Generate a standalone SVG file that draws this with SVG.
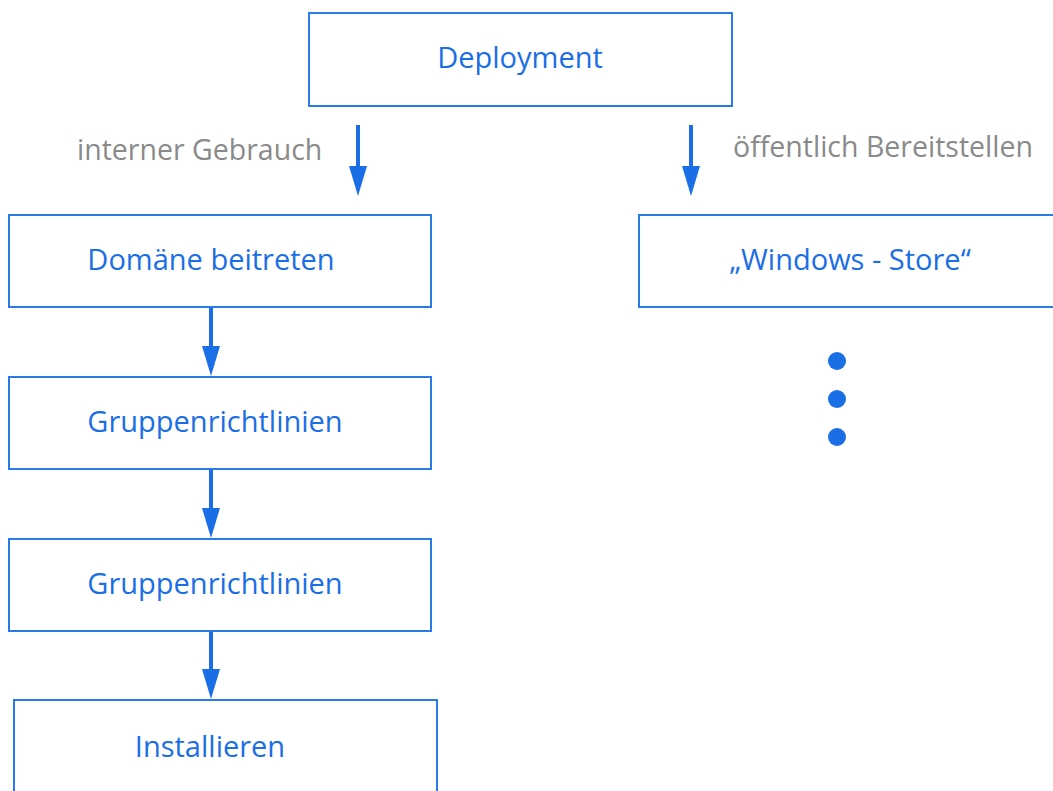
<svg xmlns="http://www.w3.org/2000/svg" width="1053" height="791" viewBox="0 0 1053 791">
  <style>
    .box { fill: #ffffff; stroke: #2a7be8; stroke-width: 2; }
    .lbl { font-family: "Open Sans", "Liberation Sans", sans-serif; font-size: 29px; fill: #1a6ee6; text-anchor: middle; }
    .note { font-family: "Open Sans", "Liberation Sans", sans-serif; font-size: 28.5px; fill: #8a8a8a; }
    .conn { stroke: #1a6ee6; stroke-width: 4; fill: none; }
    .dot { fill: #1a6ee6; }
  </style>
  <defs>
    <!-- arrowhead: 30 long, 18 wide; tip sits 20px past the line end -->
    <marker id="head" markerUnits="userSpaceOnUse" markerWidth="30" markerHeight="18" refX="10" refY="9" orient="auto" viewBox="0 0 30 18">
      <path d="M0,0 L30,9 L0,18 Z" fill="#1a6ee6"/>
    </marker>
  </defs>
  <rect width="1053" height="791" fill="#ffffff"/>

  <g id="deployment">
    <rect class="box" x="309" y="13" width="423" height="93"/>
    <text class="lbl" x="520" y="68">Deployment</text>
  </g>

  <g id="domaene">
    <rect class="box" x="9" y="215" width="422" height="92"/>
    <text class="lbl" x="211" y="270">Domäne beitreten</text>
  </g>

  <g id="store">
    <rect class="box" x="639" y="215" width="430" height="92"/>
    <text class="lbl" x="850" y="270">„Windows - Store“</text>
  </g>

  <g id="more">
    <circle class="dot" cx="837" cy="361" r="9"/>
    <circle class="dot" cx="837" cy="399" r="9"/>
    <circle class="dot" cx="837" cy="437" r="9"/>
  </g>

  <g id="gruppe1">
    <rect class="box" x="9" y="377" width="422" height="92"/>
    <text class="lbl" x="215" y="432">Gruppenrichtlinien</text>
  </g>

  <g id="gruppe2">
    <rect class="box" x="9" y="539" width="422" height="92"/>
    <text class="lbl" x="215" y="594">Gruppenrichtlinien</text>
  </g>

  <g id="installieren">
    <rect class="box" x="14" y="700" width="423" height="110"/>
    <text class="lbl" x="210" y="757">Installieren</text>
  </g>

  <g id="labels">
    <text class="note" x="77" y="160">interner Gebrauch</text>
    <text class="note" x="733" y="157">öffentlich Bereitstellen</text>
  </g>

  <g id="connectors">
    <line class="conn" x1="358" y1="125" x2="358" y2="176" marker-end="url(#head)"/>
    <line class="conn" x1="691" y1="125" x2="691" y2="176" marker-end="url(#head)"/>
    <line class="conn" x1="211" y1="308" x2="211" y2="356" marker-end="url(#head)"/>
    <line class="conn" x1="211" y1="470" x2="211" y2="518" marker-end="url(#head)"/>
    <line class="conn" x1="211" y1="632" x2="211" y2="679" marker-end="url(#head)"/>
  </g>
</svg>
